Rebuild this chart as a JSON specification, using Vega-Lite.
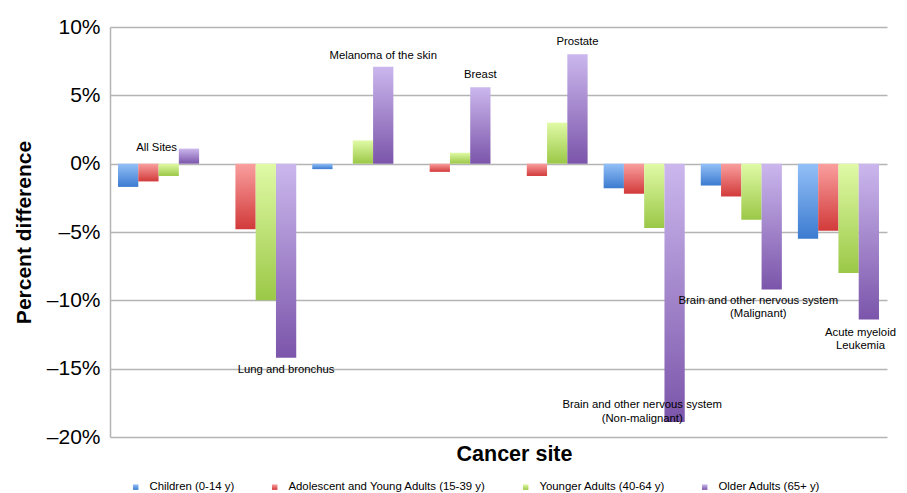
{
  "$schema": "https://vega.github.io/schema/vega-lite/v6.json",
  "width": 777,
  "height": 410,
  "autosize": {"type": "none"},
  "padding": {"left": 110, "top": 27, "right": 20, "bottom": 56},
  "background": "white",
  "config": {
    "view": {"stroke": null},
    "font": "Liberation Sans",
    "text": {"font": "Liberation Sans"}
  },
  "datasets": {
    "bars": [
      {"site": "All Sites", "group": "Children (0-14 y)", "value": -1.7},
      {"site": "All Sites", "group": "Adolescent and Young Adults (15-39 y)", "value": -1.3},
      {"site": "All Sites", "group": "Younger Adults (40-64 y)", "value": -0.9},
      {"site": "All Sites", "group": "Older Adults (65+ y)", "value": 1.1},
      {"site": "Lung and bronchus", "group": "Adolescent and Young Adults (15-39 y)", "value": -4.8},
      {"site": "Lung and bronchus", "group": "Younger Adults (40-64 y)", "value": -10.0},
      {"site": "Lung and bronchus", "group": "Older Adults (65+ y)", "value": -14.2},
      {"site": "Melanoma of the skin", "group": "Children (0-14 y)", "value": -0.4},
      {"site": "Melanoma of the skin", "group": "Younger Adults (40-64 y)", "value": 1.7},
      {"site": "Melanoma of the skin", "group": "Older Adults (65+ y)", "value": 7.1},
      {"site": "Breast", "group": "Adolescent and Young Adults (15-39 y)", "value": -0.6},
      {"site": "Breast", "group": "Younger Adults (40-64 y)", "value": 0.8},
      {"site": "Breast", "group": "Older Adults (65+ y)", "value": 5.6},
      {"site": "Prostate", "group": "Adolescent and Young Adults (15-39 y)", "value": -0.9},
      {"site": "Prostate", "group": "Younger Adults (40-64 y)", "value": 3.0},
      {"site": "Prostate", "group": "Older Adults (65+ y)", "value": 8.0},
      {"site": "Brain (Non-malignant)", "group": "Children (0-14 y)", "value": -1.8},
      {"site": "Brain (Non-malignant)", "group": "Adolescent and Young Adults (15-39 y)", "value": -2.2},
      {"site": "Brain (Non-malignant)", "group": "Younger Adults (40-64 y)", "value": -4.7},
      {"site": "Brain (Non-malignant)", "group": "Older Adults (65+ y)", "value": -18.9},
      {"site": "Brain (Malignant)", "group": "Children (0-14 y)", "value": -1.6},
      {"site": "Brain (Malignant)", "group": "Adolescent and Young Adults (15-39 y)", "value": -2.4},
      {"site": "Brain (Malignant)", "group": "Younger Adults (40-64 y)", "value": -4.1},
      {"site": "Brain (Malignant)", "group": "Older Adults (65+ y)", "value": -9.2},
      {"site": "Acute myeloid Leukemia", "group": "Children (0-14 y)", "value": -5.5},
      {"site": "Acute myeloid Leukemia", "group": "Adolescent and Young Adults (15-39 y)", "value": -4.9},
      {"site": "Acute myeloid Leukemia", "group": "Younger Adults (40-64 y)", "value": -8.0},
      {"site": "Acute myeloid Leukemia", "group": "Older Adults (65+ y)", "value": -11.4}
    ],
    "labels": [
      {"site": "All Sites", "text": "All Sites", "y": 1.13, "pos": "center"},
      {"site": "Lung and bronchus", "text": "Lung and bronchus", "y": -15.1, "pos": "bar", "group": "Older Adults (65+ y)"},
      {"site": "Melanoma of the skin", "text": "Melanoma of the skin", "y": 7.86, "pos": "bar", "group": "Older Adults (65+ y)"},
      {"site": "Breast", "text": "Breast", "y": 6.47, "pos": "bar", "group": "Older Adults (65+ y)"},
      {"site": "Prostate", "text": "Prostate", "y": 8.9, "pos": "bar", "group": "Older Adults (65+ y)"},
      {"site": "Brain (Non-malignant)", "text": ["Brain and other nervous system", "(Non-malignant)"], "y": -17.66, "pos": "center"},
      {"site": "Brain (Malignant)", "text": ["Brain and other nervous system", "(Malignant)"], "y": -10.02, "pos": "bm"},
      {"site": "Acute myeloid Leukemia", "text": ["Acute myeloid", "Leukemia"], "y": -12.36, "pos": "aml"}
    ]
  },
  "encoding": {
    "x": {
      "field": "site",
      "type": "nominal",
      "sort": null,
      "scale": {
        "domain": ["All Sites", "Lung and bronchus", "Melanoma of the skin", "Breast", "Prostate", "Brain (Non-malignant)", "Brain (Malignant)", "Acute myeloid Leukemia"],
        "paddingInner": 0.165,
        "paddingOuter": 0.0825
      },
      "axis": {
        "title": "Cancer site",
        "labels": false,
        "ticks": false,
        "domain": false,
        "titleFont": "Liberation Sans",
        "titleFontSize": 21.5,
        "titleFontWeight": "bold",
        "titleColor": "#000000",
        "titlePadding": 6,
        "titleX": 404,
        "titleAlign": "center",
        "titleAnchor": "start"
      }
    }
  },
  "layer": [
    {
      "data": {"name": "bars"},
      "mark": {"type": "bar"},
      "encoding": {
        "xOffset": {
          "field": "group",
          "type": "nominal",
          "scale": {
            "domain": ["Children (0-14 y)", "Adolescent and Young Adults (15-39 y)", "Younger Adults (40-64 y)", "Older Adults (65+ y)"],
            "paddingInner": 0,
            "paddingOuter": 0
          }
        },
        "y": {
          "field": "value",
          "type": "quantitative",
          "scale": {"domain": [-20, 10], "nice": false},
          "axis": {
            "title": "Percent difference",
            "titleFont": "Liberation Sans",
            "titleFontSize": 21,
            "titleFontWeight": "bold",
            "titleColor": "#000000",
            "titlePadding": 12,
            "values": [-20, -15, -10, -5, 0, 5, 10],
            "labelExpr": "datum.value < 0 ? '–' + abs(datum.value) + '%' : datum.value + '%'",
            "labelFont": "Liberation Sans",
            "labelFontSize": 21,
            "labelColor": "#000000",
            "labelPadding": 10,
            "ticks": false,
            "grid": true,
            "gridColor": "#b4b4b4",
            "gridWidth": 1.5,
            "domainColor": "#b4b4b4",
            "domainWidth": 1.5
          }
        },
        "color": {
          "field": "group",
          "type": "nominal",
          "scale": {
            "domain": ["Children (0-14 y)", "Adolescent and Young Adults (15-39 y)", "Younger Adults (40-64 y)", "Older Adults (65+ y)"],
            "range": [
              {"expr": "{gradient: 'linear', x1: 0, y1: 0, x2: 0, y2: 1, stops: [{offset: 0, color: '#93c0f7'}, {offset: 1, color: '#3c7bd0'}]}"},
              {"expr": "{gradient: 'linear', x1: 0, y1: 0, x2: 0, y2: 1, stops: [{offset: 0, color: '#fa9f9f'}, {offset: 1, color: '#d23a3a'}]}"},
              {"expr": "{gradient: 'linear', x1: 0, y1: 0, x2: 0, y2: 1, stops: [{offset: 0, color: '#e0faa6'}, {offset: 1, color: '#9bc847'}]}"},
              {"expr": "{gradient: 'linear', x1: 0, y1: 0, x2: 0, y2: 1, stops: [{offset: 0, color: '#cbb7ed'}, {offset: 1, color: '#7b55aa'}]}"}
            ]
          },
          "legend": {
            "title": null,
            "orient": "none",
            "direction": "horizontal",
            "legendX": 20,
            "legendY": 454,
            "symbolType": "square",
            "symbolSize": 30,
            "symbolStrokeWidth": 0,
            "labelFont": "Liberation Sans",
            "labelFontSize": 11.4,
            "labelColor": "#000000",
            "labelOffset": 8,
            "labelLimit": 0,
            "columnPadding": 34,
            "padding": 0
          }
        }
      }
    },
    {
      "data": {"name": "labels"},
      "transform": [{"filter": "datum.pos === 'center'"}],
      "mark": {"type": "text", "fontSize": 11.3, "color": "#000000", "baseline": "middle", "align": "center", "lineHeight": 14, "dx": -2},
      "encoding": {
        "y": {"field": "y", "type": "quantitative"},
        "text": {"field": "text"}
      }
    },
    {
      "data": {"name": "labels"},
      "transform": [{"filter": "datum.pos === 'bar'"}],
      "mark": {"type": "text", "fontSize": 11.3, "color": "#000000", "baseline": "middle", "align": "center"},
      "encoding": {
        "xOffset": {"field": "group", "type": "nominal"},
        "y": {"field": "y", "type": "quantitative"},
        "text": {"field": "text"}
      }
    },
    {
      "data": {"name": "labels"},
      "transform": [{"filter": "datum.pos === 'bm'"}],
      "mark": {"type": "text", "fontSize": 11.3, "color": "#000000", "baseline": "middle", "align": "center", "lineHeight": 13.5, "dx": 17},
      "encoding": {
        "y": {"field": "y", "type": "quantitative"},
        "text": {"field": "text"}
      }
    },
    {
      "data": {"name": "labels"},
      "transform": [{"filter": "datum.pos === 'aml'"}],
      "mark": {"type": "text", "fontSize": 11.3, "color": "#000000", "baseline": "middle", "align": "center", "lineHeight": 13.5, "dx": 22},
      "encoding": {
        "y": {"field": "y", "type": "quantitative"},
        "text": {"field": "text"}
      }
    }
  ]
}
